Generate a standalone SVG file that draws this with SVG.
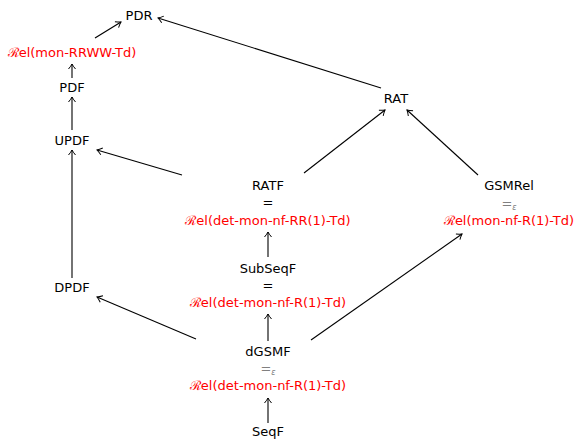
<svg xmlns="http://www.w3.org/2000/svg" width="576" height="440" viewBox="0 0 576 440">
<style>
text{font-family:"DejaVu Sans","Liberation Sans",sans-serif;font-size:13px;text-anchor:middle;fill:#000}
.r{fill:#ff0000}
.g{fill:#808080}
.c{font-family:"DejaVu Serif","Liberation Serif",serif}
.e{font-size:8px;font-style:italic}
line{stroke:#000;stroke-width:1.1;marker-end:url(#a)}
</style>
<defs>
<marker id="a" markerWidth="10" markerHeight="10" refX="0" refY="0" viewBox="-6 -5 8 10" orient="auto" markerUnits="userSpaceOnUse">
<path d="M -5 -3.5 Q -2 -1 0 0 Q -2 1 -5 3.5" fill="none" stroke="#000" stroke-width="1"/>
</marker>
</defs>
<rect width="576" height="440" fill="#fff"/>
<g id="connectors">
<line x1="95" y1="38" x2="121" y2="22"/>
<line x1="72" y1="78" x2="72" y2="64"/>
<line x1="72" y1="130" x2="72" y2="97"/>
<line x1="72" y1="278" x2="72" y2="150"/>
<line x1="182" y1="175" x2="97" y2="150"/>
<line x1="196" y1="339" x2="97" y2="297"/>
<line x1="311" y1="340" x2="462" y2="234"/>
<line x1="381" y1="88" x2="158" y2="18"/>
<line x1="304" y1="173" x2="385" y2="110"/>
<line x1="478" y1="175" x2="407" y2="110"/>
<line x1="268" y1="257" x2="268" y2="232"/>
<line x1="268" y1="341" x2="268" y2="314"/>
<line x1="268" y1="423" x2="268" y2="398"/>
</g>
<g id="PDR"><text x="139" y="20">PDR</text></g>
<g id="RelRRWW"><text x="72" y="57" class="r"><tspan class="c">ℛ</tspan>el(mon-RRWW-Td)</text></g>
<g id="PDF"><text x="72" y="92">PDF</text></g>
<g id="UPDF"><text x="72" y="145">UPDF</text></g>
<g id="DPDF"><text x="72" y="292">DPDF</text></g>
<g id="RAT"><text x="396" y="103">RAT</text></g>
<g id="RATF">
<text x="268" y="190">RATF</text>
<text x="268" y="207">=</text>
<text x="268" y="225" class="r"><tspan class="c">ℛ</tspan>el(det-mon-nf-RR(1)-Td)</text>
</g>
<g id="SubSeqF">
<text x="268" y="273">SubSeqF</text>
<text x="268" y="290">=</text>
<text x="268" y="307" class="r"><tspan class="c">ℛ</tspan>el(det-mon-nf-R(1)-Td)</text>
</g>
<g id="dGSMF">
<text x="268" y="356">dGSMF</text>
<text x="268" y="373" class="g">=<tspan class="e" dy="2">ε</tspan></text>
<text x="268" y="390" class="r"><tspan class="c">ℛ</tspan>el(det-mon-nf-R(1)-Td)</text>
</g>
<g id="SeqF"><text x="268" y="436">SeqF</text></g>
<g id="GSMRel">
<text x="509" y="190">GSMRel</text>
<text x="509" y="208" class="g">=<tspan class="e" dy="2">ε</tspan></text>
<text x="509" y="225" class="r"><tspan class="c">ℛ</tspan>el(mon-nf-R(1)-Td)</text>
</g>
</svg>
